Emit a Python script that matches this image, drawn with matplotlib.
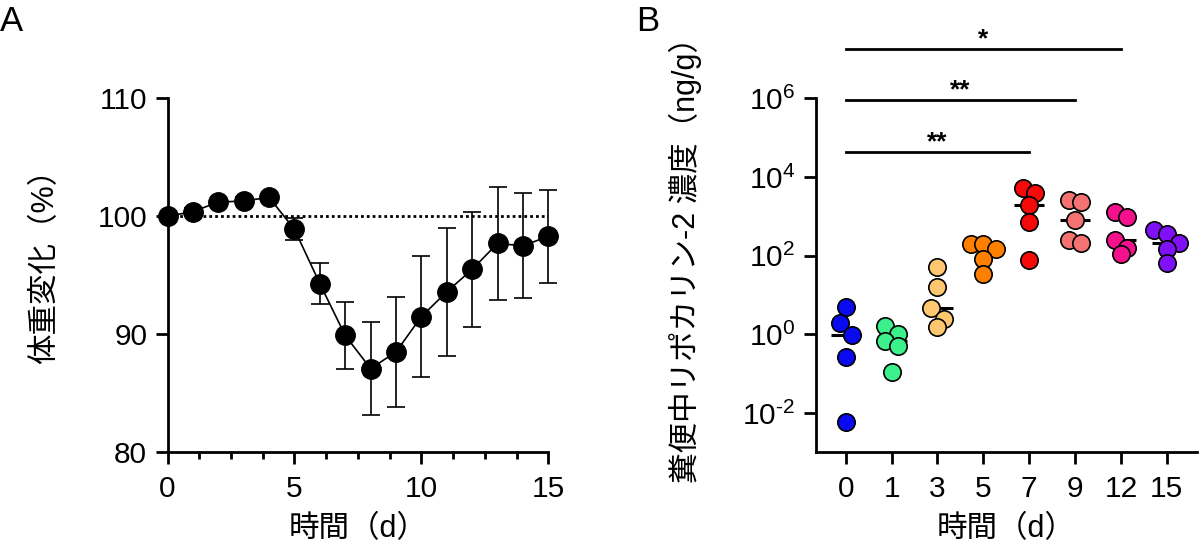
import numpy as np
import matplotlib
matplotlib.use("Agg")
import matplotlib.pyplot as plt
from matplotlib.ticker import AutoMinorLocator, NullLocator, FixedLocator
from matplotlib.transforms import blended_transform_factory

plt.rcParams['font.family'] = ['Liberation Sans', 'Noto Sans CJK JP']
plt.rcParams['mathtext.fontset'] = 'custom'
plt.rcParams['mathtext.rm'] = 'Liberation Sans'
plt.rcParams['mathtext.it'] = 'Liberation Sans:italic'
plt.rcParams['mathtext.bf'] = 'Liberation Sans:bold'

# ---------------- data: panel A (body weight change) ----------------
days_a = [0, 1, 2, 3, 4, 5, 6, 7, 8, 9, 10, 11, 12, 13, 14, 15]
weight_mean = [100.0, 100.4, 101.2, 101.3, 101.6, 98.9, 94.3, 89.9,
               87.1, 88.5, 91.5, 93.6, 95.5, 97.7, 97.5, 98.3]
weight_err = [0.0, 0.3, 0.3, 0.3, 0.3, 0.95, 1.75, 2.8,
              3.95, 4.7, 5.15, 5.45, 4.9, 4.8, 4.45, 3.95]
baseline = 100.0

# ---------------- data: panel B (fecal lipocalin-2) ----------------
days_b = ['0', '1', '3', '5', '7', '9', '12', '15']
lcn2_d0 = [5.05, 1.9, 0.98, 0.27, 0.0059]
lcn2_d1 = [1.63, 1.0, 0.66, 0.495, 0.112]
lcn2_d3 = [51.5, 16.3, 4.76, 2.41, 1.57]
lcn2_d5 = [202, 194, 145, 80.7, 33.5]
lcn2_d7 = [5150, 3980, 1940, 731, 79]
lcn2_d9 = [2600, 2310, 791, 250, 210]
lcn2_d12 = [1315, 962, 255, 153.6, 108]
lcn2_d15 = [441, 362, 214, 145, 65]
lcn2 = [lcn2_d0, lcn2_d1, lcn2_d3, lcn2_d5, lcn2_d7, lcn2_d9, lcn2_d12, lcn2_d15]
group_colors = ['#0A0AF0', '#3CF08C', '#FFC870', '#FF8000',
                '#F50A0A', '#F47272', '#F5108C', '#8010F5']
comparisons = [(0, 4, '**'), (0, 5, '**'), (0, 6, '*')]

ytick_b = [1e-2, 1e0, 1e2, 1e4, 1e6]
ytick_b_labels = [r'$\mathregular{10^{\text{-}2}}$', r'$\mathregular{10^{0}}$',
                  r'$\mathregular{10^{2}}$', r'$\mathregular{10^{4}}$',
                  r'$\mathregular{10^{6}}$']

TICK_FS = 21.5
LABEL_FS = 22

fig = plt.figure(figsize=(12, 5.47), dpi=100)
axA = fig.add_axes([0.1396, 0.1731, 0.3173, 0.6472])
axB = fig.add_axes([0.6796, 0.1731, 0.3179, 0.6472])

for ax in (axA, axB):
    ax.spines['top'].set_visible(False)
    ax.spines['right'].set_visible(False)
    for s in ('left', 'bottom'):
        ax.spines[s].set_linewidth(2.0)
    ax.tick_params(which='major', length=8.6, width=2.0, labelsize=TICK_FS, color='k')
    ax.tick_params(axis='x', which='major', pad=8)
    ax.tick_params(axis='y', which='major', pad=6)

# ---------------- panel A ----------------
axA.plot([days_a[0], days_a[-1]], [baseline, baseline], color='k', lw=2.0,
         ls=(0, (1, 1.1)), zorder=1)
axA.errorbar(days_a, weight_mean, yerr=weight_err, fmt='-o', color='k',
             ms=14, lw=1.2, elinewidth=1.2, capsize=6.5, capthick=1.2,
             mfc='k', mec='k', clip_on=False, zorder=3)
axA.set_xlim(0, 15)
axA.set_ylim(80, 110)
axA.set_xticks([0, 5, 10, 15])
axA.set_yticks([80, 90, 100, 110])
axA.xaxis.set_minor_locator(AutoMinorLocator(4))
axA.tick_params(axis='x', which='minor', length=5, width=2.0)
axA.set_xlabel('時間（d）', fontsize=LABEL_FS, va='center')
axA.set_ylabel('体重変化（%）', fontsize=LABEL_FS, va='center')
axA.xaxis.set_label_coords(0.5, -0.217)
axA.yaxis.set_label_coords(-0.322, 0.545)

# ---------------- panel B ----------------
axB.set_yscale('log')
axB.set_ylim(1e-3, 1e6)
axB.set_xlim(-0.66, 7.66)
axB.yaxis.set_major_locator(FixedLocator(ytick_b))
axB.set_yticklabels(ytick_b_labels)
axB.yaxis.set_minor_locator(NullLocator())
axB.set_xticks(range(len(days_b)))
axB.set_xticklabels(days_b)
axB.set_xlabel('時間（d）', fontsize=LABEL_FS, va='center')
axB.set_ylabel('糞便中リポカリン-2 濃度（ng/g）', fontsize=LABEL_FS, va='center')
axB.xaxis.set_label_coords(0.5, -0.217)
axB.yaxis.set_label_coords(-0.342, 0.563)

fig.canvas.draw()

marker_pt = 12.5
row_px = 12.5  # vertical closeness threshold & horizontal spacing (pixels)
px_per_cat = (axB.transData.transform((1, 1)) - axB.transData.transform((0, 1)))[0]


def swarm(vals):
    vals = np.asarray(vals, dtype=float)
    ypx = axB.transData.transform(np.column_stack([np.zeros_like(vals), vals]))[:, 1]
    order = np.argsort(-vals)
    offs = np.zeros(len(vals))
    rows = []
    cur = [order[0]]
    for idx in order[1:]:
        if abs(ypx[cur[0]] - ypx[idx]) < row_px:
            cur.append(idx)
        else:
            rows.append(cur)
            cur = [idx]
    rows.append(cur)
    for r in rows:
        n = len(r)
        for k, idx in enumerate(r):
            offs[idx] = (k - (n - 1) / 2.0) * row_px
    return offs / px_per_cat


for i, (vals, col) in enumerate(zip(lcn2, group_colors)):
    med = np.median(vals)
    axB.hlines(med, i - 0.33, i + 0.33, color='k', lw=2.2, zorder=2)
    xo = swarm(vals)
    axB.scatter(i + xo, vals, s=marker_pt ** 2, color=col, edgecolors='k',
                linewidths=1.2, zorder=3, clip_on=False)

blend = blended_transform_factory(axB.transData, axB.transAxes)
y0, dy = 0.848, 0.146
for k, (a, b, star) in enumerate(comparisons):
    yy = y0 + k * dy
    axB.plot([a, b], [yy, yy], color='k', lw=2.0, transform=blend, clip_on=False)
    axB.annotate(star, xy=((a + b) / 2.0, yy), xycoords=blend, xytext=(0, 2),
                 textcoords='offset points', ha='center', va='baseline',
                 fontsize=19, fontweight='bold', annotation_clip=False)

fig.text(0.0, 1 - 5 / 547, 'A', ha='left', va='top', fontsize=25)
fig.text(636 / 1200, 1 - 5 / 547, 'B', ha='left', va='top', fontsize=25)

fig.savefig('out.png', dpi=100)
